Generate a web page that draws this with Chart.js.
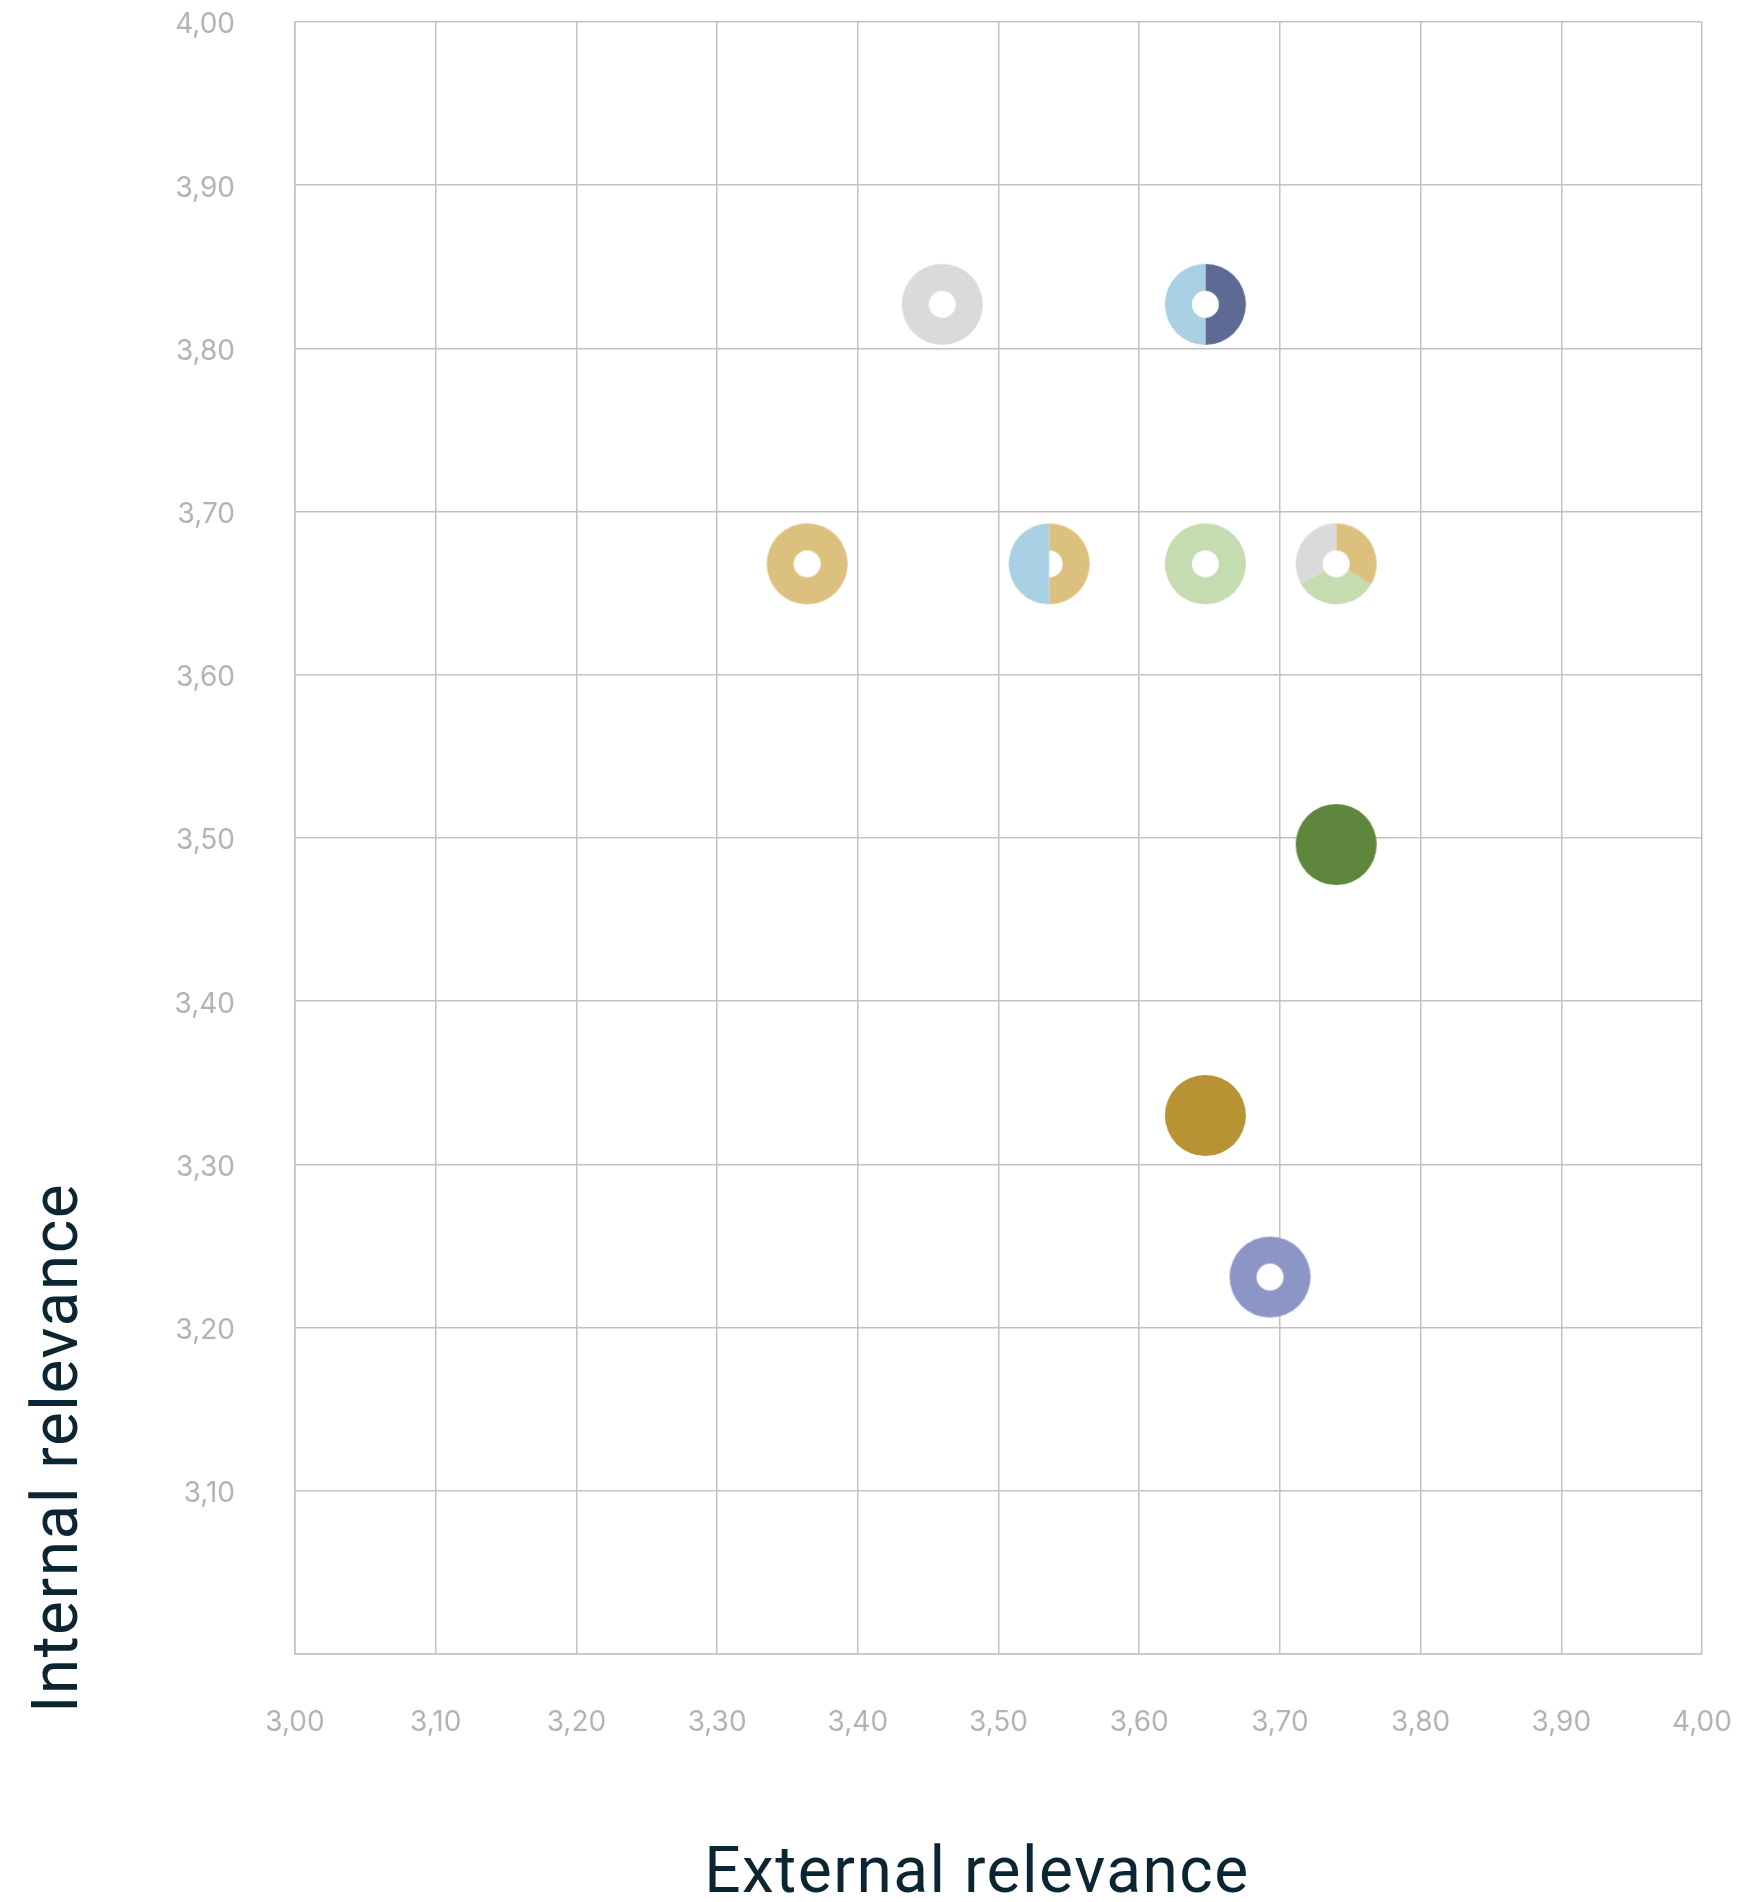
<!DOCTYPE html>
<html>
<head>
<meta charset="utf-8">
<title>Relevance matrix</title>
<script src="https://cdn.jsdelivr.net/npm/chart.js@4/dist/chart.umd.min.js"></script>
<style>
  html, body { margin: 0; padding: 0; background: #fff; }
  #wrap { position: relative; width: 1742px; height: 1902px; }
</style>
</head>
<body>
<div id="wrap"><canvas id="graph"></canvas></div>
<script>
// topic scores
const externalRelevance = [3.46, 3.647, 3.364, 3.536, 3.647, 3.74, 3.74, 3.647, 3.693];
const internalRelevance = [3.827, 3.827, 3.668, 3.668, 3.668, 3.668, 3.496, 3.33, 3.231];

// tick labels (decimal comma)
const xTickLabels = ["3,00", "3,10", "3,20", "3,30", "3,40", "3,50", "3,60", "3,70", "3,80", "3,90", "4,00"];
const yTickLabels = ["", "3,10", "3,20", "3,30", "3,40", "3,50", "3,60", "3,70", "3,80", "3,90", "4,00"];

const GREY = "#dadada";
const LIGHT_BLUE = "#a9d0e3";
const DARK_BLUE = "#5d6a93";
const GOLD = "#dcc07e";
const LIGHT_GREEN = "#c5dbb0";
const DARK_GREEN = "#5f863d";
const OLIVE = "#b79333";
const PURPLE = "#8c96c6";

// slices of each marker, clockwise from 12 o'clock; ring = slice has a hole
const markerSlices = [
  [{ color: GREY, ring: true }],
  [{ color: DARK_BLUE, ring: true }, { color: LIGHT_BLUE, ring: true }],
  [{ color: GOLD, ring: true }],
  [{ color: GOLD, ring: true }, { color: LIGHT_BLUE, ring: false }],
  [{ color: LIGHT_GREEN, ring: true }],
  [{ color: GOLD, ring: true }, { color: LIGHT_GREEN, ring: true }, { color: GREY, ring: true }],
  [{ color: DARK_GREEN, ring: false }],
  [{ color: OLIVE, ring: false }],
  [{ color: PURPLE, ring: true }],
];

const OUTER_R = 40.5;
const INNER_R = 13.5;

function makeMarker(slices) {
  const size = Math.ceil(OUTER_R * 2) + 2;
  const c = document.createElement("canvas");
  c.width = size;
  c.height = size;
  const ctx = c.getContext("2d");
  const cx = size / 2, cy = size / 2;
  // white base so grid lines don't show through the hole
  ctx.fillStyle = "#fff";
  ctx.beginPath();
  ctx.arc(cx, cy, OUTER_R, 0, Math.PI * 2);
  ctx.fill();
  const step = (Math.PI * 2) / slices.length;
  slices.forEach((s, i) => {
    const a0 = -Math.PI / 2 + i * step;
    const a1 = a0 + step;
    ctx.fillStyle = s.color;
    ctx.beginPath();
    if (slices.length === 1 && !s.ring) {
      ctx.arc(cx, cy, OUTER_R, 0, Math.PI * 2);
    } else if (slices.length === 1) {
      ctx.arc(cx, cy, OUTER_R, 0, Math.PI * 2);
      ctx.arc(cx, cy, INNER_R, Math.PI * 2, 0, true);
    } else if (s.ring) {
      ctx.arc(cx, cy, OUTER_R, a0, a1);
      ctx.arc(cx, cy, INNER_R, a1, a0, true);
    } else {
      ctx.moveTo(cx, cy);
      ctx.arc(cx, cy, OUTER_R, a0, a1);
    }
    ctx.closePath();
    ctx.fill("evenodd");
  });
  return c;
}

const markers = markerSlices.map(makeMarker);

const points = externalRelevance.map((x, i) => ({ x: x, y: internalRelevance[i] }));

const GRID = "#c2c2c2";
const TICK = "#b3b3b3";
const TITLE = "#0c2533";
const tickFont = { family: "Inter", size: 28 };

// axis titles sit low and left of the plot, so they are drawn by hand
const axisTitles = {
  id: "axisTitles",
  afterDraw(chart) {
    const ctx = chart.ctx;
    ctx.save();
    ctx.fillStyle = TITLE;
    ctx.font = "64px Roboto";
    ctx.letterSpacing = "1.5px";
    ctx.textAlign = "center";
    ctx.textBaseline = "alphabetic";
    ctx.fillText("External relevance", 977, 1892);
    ctx.translate(77, 1448);
    ctx.rotate(-Math.PI / 2);
    ctx.fillText("Internal relevance", 0, 0);
    ctx.restore();
  },
};

const graph = document.getElementById("graph").getContext("2d");

const myChart = new Chart(graph, {
  type: "scatter",
  data: {
    datasets: [
      {
        data: points,
        pointStyle: (ctx) => markers[ctx.dataIndex],
        pointRadius: OUTER_R,
        pointHoverRadius: OUTER_R,
      },
    ],
  },
  options: {
    responsive: true,
    maintainAspectRatio: false,
    devicePixelRatio: 1,
    animation: false,
    events: [],
    layout: {
      autoPadding: false,
      padding: { top: 22, right: 40, left: 0, bottom: 0 },
    },
    plugins: {
      legend: { display: false },
      tooltip: { enabled: false },
    },
    scales: {
      x: {
        type: "linear",
        min: 3,
        max: 4,
        ticks: {
          stepSize: 0.1,
          color: TICK,
          font: tickFont,
          padding: 52,
          maxRotation: 0,
          autoSkip: false,
          callback: (value, index) => xTickLabels[index],
        },
        grid: { color: GRID, lineWidth: 1.5, drawTicks: false },
        border: { color: GRID, width: 1.5 },
        afterFit: (scale) => {
          scale.height = 248;
          scale.paddingLeft = 0;
          scale.paddingRight = 0;
        },
      },
      y: {
        type: "linear",
        min: 3,
        max: 4,
        ticks: {
          stepSize: 0.1,
          color: TICK,
          font: tickFont,
          padding: 60,
          labelOffset: 3,
          autoSkip: false,
          callback: (value, index) => yTickLabels[index],
        },
        grid: { color: GRID, lineWidth: 1.5, drawTicks: false },
        border: { color: GRID, width: 1.5 },
        afterFit: (scale) => {
          scale.width = 295;
          scale.paddingTop = 0;
          scale.paddingBottom = 0;
        },
      },
    },
  },
  plugins: [axisTitles],
});
</script>
</body>
</html>
